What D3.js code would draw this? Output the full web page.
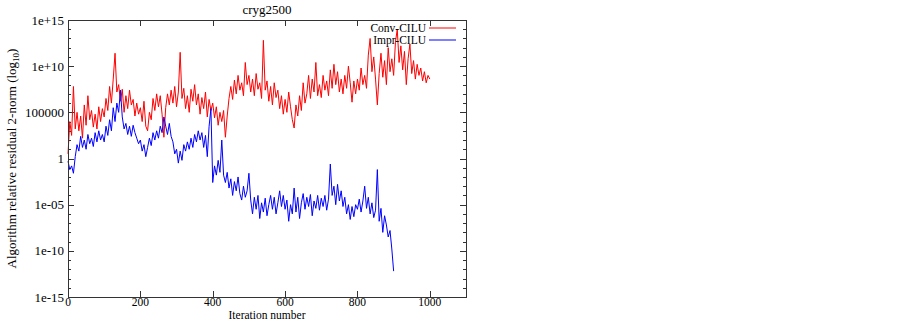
<!DOCTYPE html>
<html><head><meta charset="utf-8">
<script src="https://cdn.jsdelivr.net/npm/d3@7"></script>
<style>body{margin:0;background:#fff}svg{display:block}text{font-family:"Liberation Serif","Times New Roman",serif;fill:#000}</style>
</head><body><svg id="c" width="902" height="321"></svg>
<script>
// iteration step between stored samples
const step = 5;
// log10 of Conv-CILU residual, sampled every 5 iterations (0..1000)
const convLog = [
0.5,4.0,2.5,7.8,3.2,5.0,3.0,4.6,2.2,5.8,3.6,6.8,4.2,5.2,3.4,4.8,3.2,5.6,4.0,5.4,
4.5,6.5,5.2,7.8,6.0,8.6,11.4,7.2,8.0,6.2,7.5,5.0,6.8,5.4,7.4,5.8,6.4,4.6,6.0,4.8,
5.5,4.0,6.2,3.5,3.0,5.0,4.2,6.5,5.2,7.0,5.6,6.8,4.8,2.3,5.5,7.0,5.8,7.4,6.0,7.8,
5.6,7.2,11.5,6.5,7.6,5.4,6.8,5.0,7.5,6.2,8.0,5.8,7.0,4.8,6.6,5.4,7.2,4.5,6.4,5.2,
6.0,4.4,5.6,3.6,5.0,4.0,5.2,2.3,4.6,6.5,7.8,6.4,8.5,7.0,9.0,7.4,8.2,6.8,10.4,8.0,
9.0,7.2,8.6,6.8,9.2,7.5,8.2,6.5,12.8,7.4,8.4,6.2,7.8,5.8,8.2,6.6,7.4,5.4,6.8,4.8,
6.4,5.0,7.2,5.6,4.2,3.3,5.8,4.6,6.8,5.2,8.2,6.0,7.0,9.0,6.5,8.6,7.2,10.4,6.8,8.0,
6.6,9.0,7.4,8.4,6.8,9.6,7.6,10.2,8.0,9.4,7.2,8.6,7.0,9.0,7.6,10.0,8.2,6.1,8.4,7.0,
8.6,7.4,9.8,8.0,9.0,7.6,11.2,13.0,9.4,11.0,8.6,5.8,9.2,11.4,8.8,10.6,8.0,12.0,9.4,10.8,
9.0,12.6,14.0,10.4,12.2,9.6,11.6,8.0,10.8,12.4,9.2,10.6,8.6,10.2,9.0,9.8,8.4,9.4,8.2,9.0,
8.6];
// log10 of Impr-CILU residual, sampled every 5 iterations (0..900)
const imprLog = [
-0.3,-1.2,-0.8,-1.6,0.2,1.5,0.8,2.4,1.2,2.0,1.0,2.6,1.6,2.2,1.3,2.8,1.8,3.0,2.0,2.6,
1.8,3.5,2.5,4.2,3.0,5.5,4.0,6.0,5.0,7.4,4.5,3.2,3.8,2.6,3.5,2.4,3.6,2.8,2.2,1.6,
2.0,0.8,1.5,0.2,1.2,2.2,1.4,2.8,2.0,3.0,2.2,3.5,2.8,4.5,3.5,2.6,3.8,2.4,1.8,0.5,
1.0,-0.5,0.8,-0.2,1.5,0.8,1.8,1.0,2.2,1.2,2.6,1.8,3.0,2.0,2.8,1.2,2.5,0.2,3.5,5.4,
-2.6,-0.8,-1.8,-0.2,-1.5,2.0,-1.8,-2.6,-1.5,-3.2,-2.2,-4.0,-2.5,-3.5,-2.0,-3.8,-4.5,-3.0,-4.2,-3.5,
-1.6,-4.5,-6.0,-4.2,-5.5,-4.0,-6.5,-4.8,-5.8,-4.3,-6.2,-5.0,-4.0,-5.5,-4.2,-6.0,-4.8,-3.5,-5.2,-4.0,
-5.5,-4.5,-6.8,-5.0,-6.0,-3.2,-5.8,-4.2,-6.5,-4.8,-3.8,-5.5,-4.2,-5.2,-3.9,-6.2,-4.6,-5.4,-4.0,-5.6,
-4.3,-5.2,-4.0,-5.6,-4.4,-0.6,-4.0,-3.0,-5.0,-2.8,-4.6,-3.5,-5.2,-4.2,-6.0,-5.0,-6.6,-5.2,-6.3,-5.0,
-5.5,-4.4,-5.8,-4.6,-3.0,-5.4,-4.2,-6.0,-4.8,-6.4,-5.6,-1.2,-6.8,-5.4,-8.0,-6.2,-7.2,-8.5,-7.8,-9.8,
-12.2];
const seriesNames = ["Conv-CILU","Impr-CILU"];
const seriesColors = ["#ff0000","#0000ff"];
const xTicks = [0,200,400,600,800,1000];
const yTicks = [1e15,1e10,1e5,1,1e-5,1e-10,1e-15];
const yTickLabels = ["1e+15","1e+10","100000","1","1e-05","1e-10","1e-15"];
const title = "cryg2500";

const svg = d3.select("#c");
const L=68,R=466,T=20,B=297;
const x = d3.scaleLinear().domain([0,1100]).range([L,R]);
const y = d3.scaleLog().domain([1e-15,1e15]).range([B,T]);

const frame="#333";
const g = svg.append("g").attr("stroke",frame).attr("stroke-width",1);
xTicks.forEach(t=>{
  const px=Math.round(x(t))+0.5;
  g.append("line").attr("x1",px).attr("x2",px).attr("y1",B).attr("y2",B-6);
  g.append("line").attr("x1",px).attr("x2",px).attr("y1",T).attr("y2",T+6);
});
for(let e=-15;e<=15;e++){
  const py=Math.round(y(Math.pow(10,e)))+0.5;
  const len = (e%5===0)?6:3;
  g.append("line").attr("x1",L).attr("x2",L+len).attr("y1",py).attr("y2",py);
  g.append("line").attr("x1",R).attr("x2",R-len).attr("y1",py).attr("y2",py);
}

const line = d3.line().x(d=>x(d[0])).y(d=>y(d[1]));
[convLog,imprLog].forEach((arr,k)=>{
  const pts = arr.map((v,i)=>[i*step,Math.pow(10,v)]);
  svg.append("path").attr("d",line(pts)).attr("fill","none")
    .attr("stroke",seriesColors[k]).attr("stroke-width",1).attr("stroke-linejoin","round");
});

svg.append("rect").attr("x",L+0.5).attr("y",T+0.5).attr("width",R-L).attr("height",B-T)
  .attr("fill","none").attr("stroke",frame).attr("stroke-width",1);

xTicks.forEach(t=>{
  svg.append("text").attr("x",x(t)).attr("y",B+8.5).attr("text-anchor","middle")
    .attr("font-size",11.5).text(t);
});
yTicks.forEach((t,i)=>{
  svg.append("text").attr("x",L-4).attr("y",y(t)+4.5).attr("text-anchor","end")
    .attr("font-size",13).text(yTickLabels[i]);
});

svg.append("text").attr("x",(L+R)/2).attr("y",14).attr("text-anchor","middle")
  .attr("font-size",13).text(title);
svg.append("text").attr("x",(L+R)/2).attr("y",318.6).attr("text-anchor","middle")
  .attr("font-size",11.5).text("Iteration number");
const yl = svg.append("text").attr("transform",`translate(16,${(T+B)/2}) rotate(-90)`)
  .attr("text-anchor","middle").attr("font-size",13);
yl.append("tspan").text("Algorithm relative residual 2-norm (log");
yl.append("tspan").attr("font-size",9).attr("dy",3).text("10");
yl.append("tspan").attr("dy",-3).text(")");

seriesNames.forEach((n,k)=>{
  const ly = 28 + k*12;
  svg.append("text").attr("x",426).attr("y",ly+4).attr("text-anchor","end")
    .attr("font-size",11.5).text(n);
  svg.append("line").attr("x1",429).attr("x2",456).attr("y1",ly).attr("y2",ly)
    .attr("stroke",seriesColors[k]).attr("stroke-width",1);
});
</script></body></html>
